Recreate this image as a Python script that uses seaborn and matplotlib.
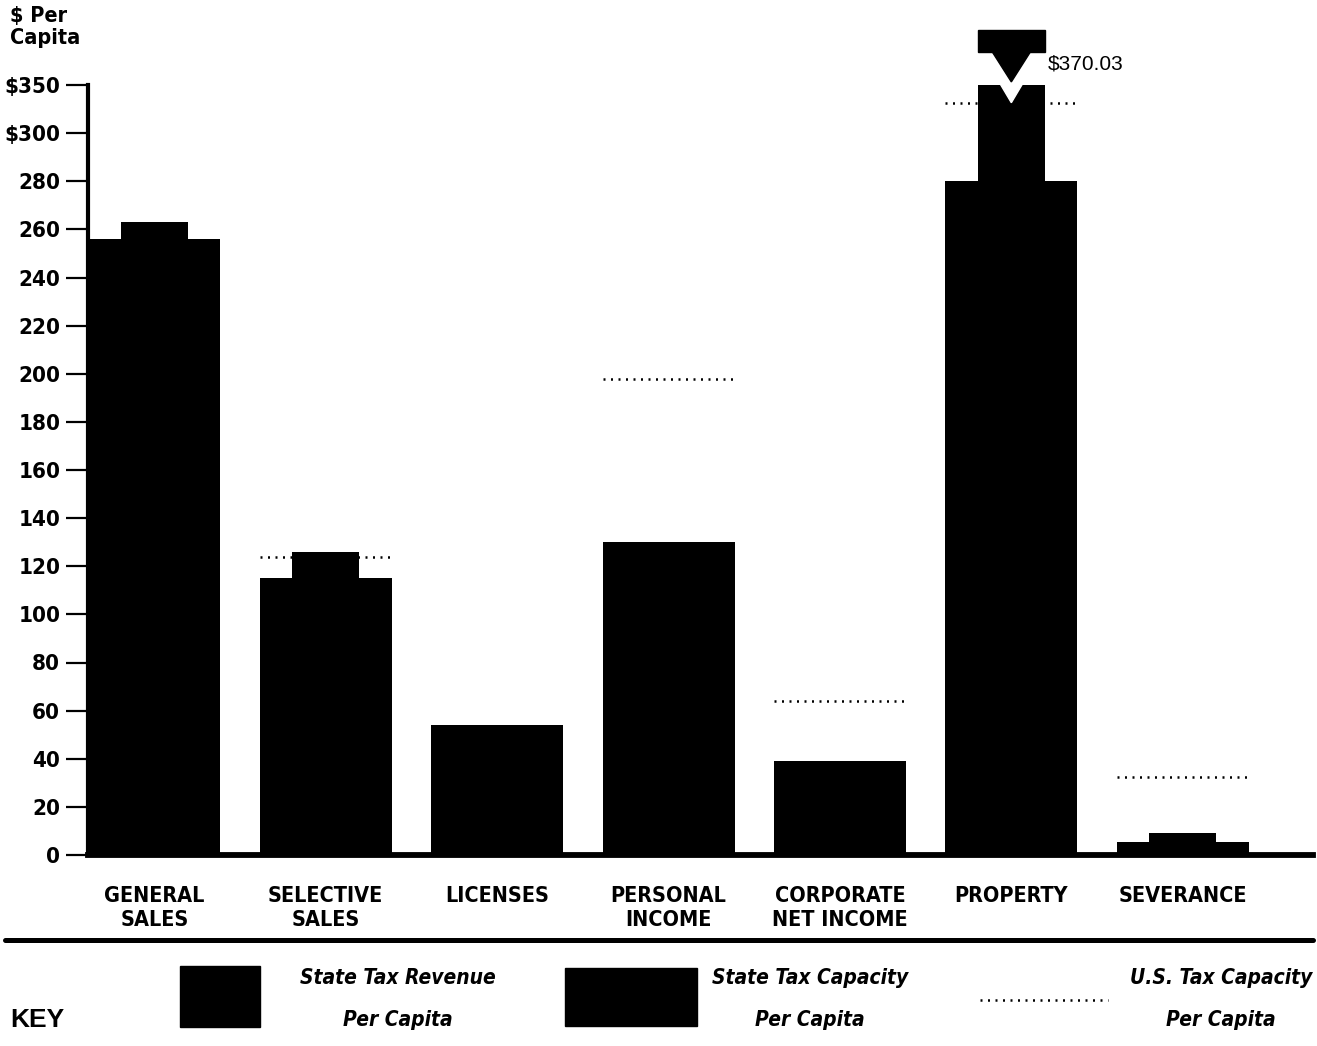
import numpy as np
import pandas as pd
import matplotlib
matplotlib.use("Agg")
import matplotlib.pyplot as plt
import matplotlib.font_manager as fm
from matplotlib.patches import Rectangle, Polygon
from matplotlib.lines import Line2D
import matplotlib.transforms as mtransforms
import seaborn as sns

# data ($ per capita)
categories = ["GENERAL\nSALES", "SELECTIVE\nSALES", "LICENSES", "PERSONAL\nINCOME",
              "CORPORATE\nNET INCOME", "PROPERTY", "SEVERANCE"]
state_revenue = [263, 126, 52, 0, 0, 370.03, 9]
state_capacity = [256, 115, 54, 130, 39, 280, 5.5]
us_capacity = [236, 124, 36, 198, 64, 331, 32.5]
ytick_vals = [0, 20, 40, 60, 80, 100, 120, 140, 160, 180, 200, 220, 240, 260, 280, 300, 350]
ytick_labels = ["0", "20", "40", "60", "80", "100", "120", "140", "160", "180", "200",
                "220", "240", "260", "280", "$300", "$350"]

# look for a narrow / condensed face
names = {f.name for f in fm.fontManager.ttflist}
cond = [f for f in fm.fontManager.ttflist
        if "Narrow" in f.name or "Condensed" in f.name
        or f.stretch in ("condensed", "semi-condensed", 75, 87.5)]
if "Liberation Sans Narrow" in names:
    NARROW, STRETCH, found = "Liberation Sans Narrow", "normal", True
elif cond:
    NARROW, STRETCH, found = cond[0].name, "condensed", True
else:
    NARROW, STRETCH, found = "DejaVu Sans", "normal", False
WIDE = "Liberation Sans" if "Liberation Sans" in names else "DejaVu Sans"
shrink = 1.0 if found else 0.9

sns.set_theme(style="white")
plt.rcParams["font.family"] = [NARROW, "DejaVu Sans"]
plt.rcParams["font.stretch"] = STRETCH
plt.rcParams["text.color"] = "black"
plt.rcParams["xtick.color"] = "black"
plt.rcParams["ytick.color"] = "black"

df = pd.DataFrame({"category": categories, "revenue": state_revenue,
                   "capacity": state_capacity, "us": us_capacity})

fig = plt.figure(figsize=(13.17, 10.46), dpi=100)
ax = fig.add_axes([88 / 1317, 1 - 855 / 1046, (1313 - 88) / 1317, (855 - 85) / 1046])

WIDE_W, NARROW_W = 0.77, 0.39

# broken scale above 300: 50 units squeezed into one 20-unit step
def fwd(v):
    v = np.asarray(v, dtype=float)
    return np.where(v <= 300, v, 300 + (v - 300) * 0.4)

def inv(p):
    p = np.asarray(p, dtype=float)
    return np.where(p <= 300, p, 300 + (p - 300) * 2.5)

# US capacity dotted lines behind the bars
x_idx = np.arange(len(categories))
ax.hlines(df["us"], x_idx - WIDE_W / 2, x_idx + WIDE_W / 2, colors="black",
          linewidth=1.8, linestyles=(0, (0.8, 2.2)), zorder=1)

sns.barplot(data=df, x="category", y="capacity", color="black", saturation=1,
            width=WIDE_W, linewidth=0, ax=ax, zorder=2)
sns.barplot(data=df, x="category", y="revenue", color="black", saturation=1,
            width=NARROW_W, linewidth=0, ax=ax, zorder=2)

ax.set_yscale("function", functions=(fwd, inv))
ax.set_ylim(0, 350)
ax.set_xlim(-0.387, 6.76)
ax.set_yticks(ytick_vals)
ax.set_yticklabels(ytick_labels, fontsize=16 * shrink, fontweight="bold")
ax.set_xticks(x_idx)
ax.set_xticklabels(categories, fontsize=15.5 * shrink, fontweight="bold", linespacing=1.25)
ax.tick_params(axis="x", length=0, pad=22)
ax.tick_params(axis="y", direction="out", length=16, width=1.6, pad=4, color="black",
               left=True)
ax.set_xlabel("")
ax.set_ylabel("")
for s in ["top", "right"]:
    ax.spines[s].set_visible(False)
ax.spines["left"].set_linewidth(3)
ax.spines["bottom"].set_linewidth(4.2)
ax.spines["left"].set_color("black")
ax.spines["bottom"].set_color("black")
ax.grid(False)

# off-scale marker on the property revenue bar
ip = categories.index("PROPERTY")
trans = mtransforms.blended_transform_factory(ax.transData, ax.transAxes)
ax.add_patch(Rectangle((ip - NARROW_W / 2, 1.043), NARROW_W, 0.029, transform=trans,
                       color="black", clip_on=False, zorder=4))
ax.add_patch(Polygon([(ip - 0.117, 1.045), (ip + 0.117, 1.045), (ip, 1.004)],
                     transform=trans, color="black", clip_on=False, zorder=4))
ax.add_patch(Polygon([(ip - 0.064, 1.001), (ip + 0.064, 1.001), (ip, 0.977)],
                     transform=trans, color="white", clip_on=False, zorder=4))
ax.text(ip + NARROW_W / 2 + 0.02, 1.027, f"${state_revenue[ip]:.2f}", transform=trans,
        fontsize=15, family=WIDE, stretch="normal", va="center", ha="left")

fig.text(10 / 1317, 1 - 6 / 1046, "$ Per\nCapita", fontsize=15.5 * shrink, fontweight="bold",
         va="top", ha="left", linespacing=1.1)

# key area
fig.add_artist(Line2D([5 / 1317, 1313 / 1317], [1 - 940 / 1046] * 2, color="black",
                      linewidth=3.6, transform=fig.transFigure))
fig.text(10 / 1317, 1 - 1020 / 1046, "KEY", fontsize=19, fontweight="bold", family=WIDE,
         stretch="normal", va="center", ha="left")
fig.add_artist(Rectangle((180 / 1317, 1 - 1027 / 1046), 80 / 1317, 61 / 1046,
                         transform=fig.transFigure, color="black"))
fig.add_artist(Rectangle((565 / 1317, 1 - 1026 / 1046), 132 / 1317, 58 / 1046,
                         transform=fig.transFigure, color="black"))
fig.add_artist(Line2D([980 / 1317, 1108 / 1317], [1 - 1000 / 1046] * 2, color="black",
                      linewidth=1.8, linestyle=(0, (0.8, 2.2)), transform=fig.transFigure))
key_text = [(398, "center", "State Tax Revenue"), (810, "center", "State Tax Capacity"),
            (1312, "right", "U.S. Tax Capacity")]
for xc, ha, t in key_text:
    fig.text(xc / 1317, 1 - 978 / 1046, t, fontsize=15 * shrink, fontweight="bold",
             style="italic", ha=ha, va="center")
for xc in [398, 810, 1221]:
    fig.text(xc / 1317, 1 - 1020 / 1046, "Per Capita", fontsize=15 * shrink,
             fontweight="bold", style="italic", ha="center", va="center")

fig.savefig("out.png", dpi=100, facecolor="white")
